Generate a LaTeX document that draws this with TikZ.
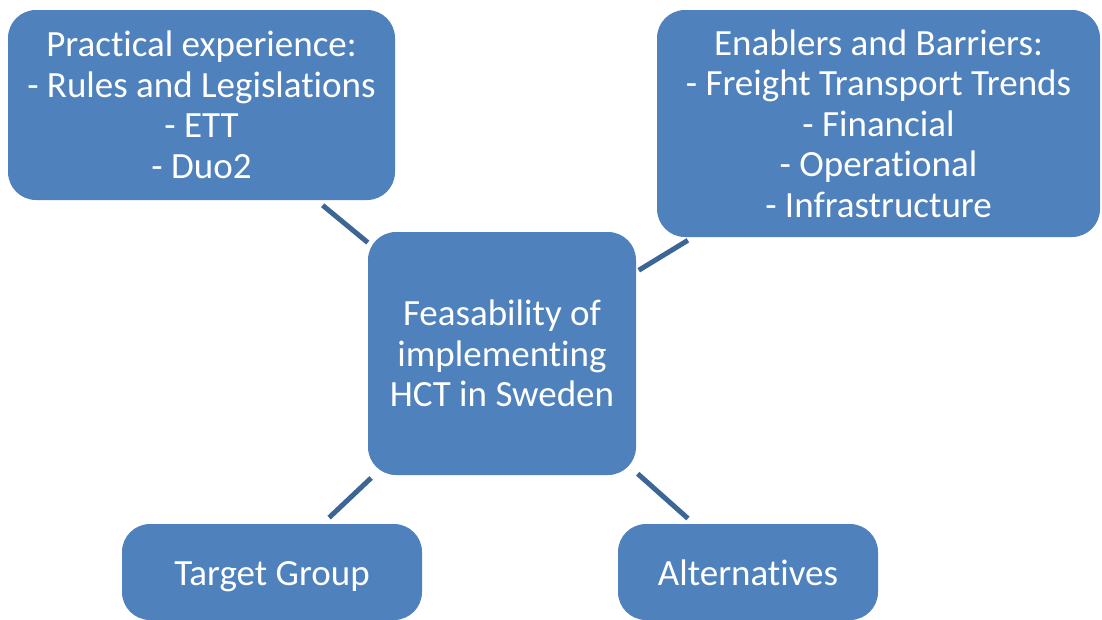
\documentclass[tikz,border=0pt]{standalone}
\usepackage{fontspec}
\setmainfont[Ligatures=NoCommon]{Carlito}
\definecolor{boxblue}{HTML}{4F81BD}
\definecolor{linkblue}{HTML}{3C6696}
\tikzset{
	topic/.style={fill=boxblue, rounded corners=28pt, text=white, align=center,
		inner sep=0pt, font=\fontsize{37}{40.5}\selectfont},
	oneline/.style={topic, text height=34pt, text depth=7pt},
	link/.style={draw=linkblue, line width=5pt}
}

\begin{document}
\begin{tikzpicture}[x=1pt,y=-1pt]
		\useasboundingbox (0,0) rectangle (1102,619);
		% the five boxes
		\node[topic, minimum width=387pt, minimum height=190pt] (practice) at (201.5,105)
			{Practical experience:\\- Rules and Legislations\\- ETT\\- Duo2};
		\node[topic, minimum width=443pt, minimum height=227pt] (enablers) at (878.5,123.5)
			{Enablers and Barriers:\\- Freight Transport Trends\\- Financial\\- Operational\\- Infrastructure};
		\node[topic, minimum width=268pt, minimum height=243pt] (hct) at (502,353.5)
			{Feasability of\\implementing\\HCT in Sweden};
		\node[oneline, minimum width=300pt, minimum height=96pt] (target) at (272,572)
			{Target Group};
		\node[oneline, minimum width=260pt, minimum height=96pt] (alter) at (748,572)
			{Alternatives};
		% links
		\draw[link, shorten <=8pt] (practice) -- (hct);
		\draw[link, shorten <=3pt, shorten >=6pt] (hct) -- (enablers);
		\draw[link, shorten <=4pt, shorten >=9pt] (hct) -- (target);
		\draw[link, shorten <=2pt, shorten >=8pt] (hct) -- (alter);
	\end{tikzpicture}
\end{document}
